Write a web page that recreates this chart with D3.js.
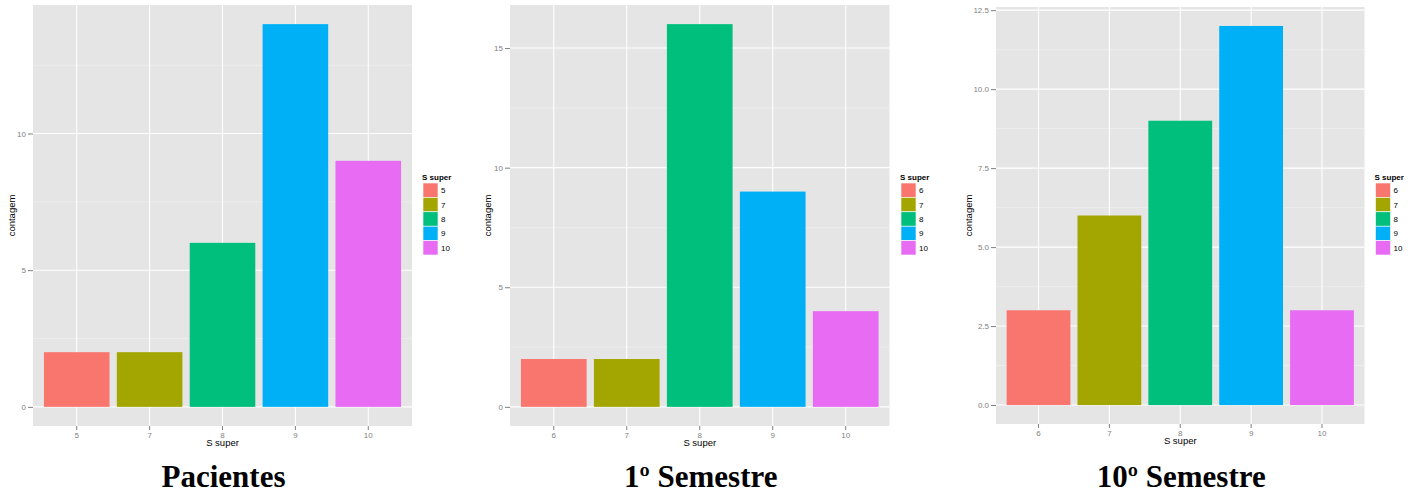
<!DOCTYPE html>
<html>
<head>
<meta charset="utf-8">
<script src="https://cdn.jsdelivr.net/npm/d3@7"></script>
<style>
  html, body { margin: 0; padding: 0; background: #ffffff; }
  svg { display: block; }
</style>
</head>
<body>
<svg id="chart" width="1414" height="493"></svg>
<script>
// S super score counts for three groups
const pacientesCats = ["5", "7", "8", "9", "10"];
const pacientesCounts = [2, 2, 6, 14, 9];

const semestre1Cats = ["6", "7", "8", "9", "10"];
const semestre1Counts = [2, 2, 16, 9, 4];

const semestre10Cats = ["6", "7", "8", "9", "10"];
const semestre10Counts = [3, 6, 9, 12, 3];

const pacientesTicks = [0, 5, 10];
const semestre1Ticks = [0, 5, 10, 15];
const semestre10Ticks = [0, 2.5, 5, 7.5, 10, 12.5];

const panelTitles = ["Pacientes", "1º Semestre", "10º Semestre"];
const hueColors = ["#F8766D", "#A3A500", "#00BF7D", "#00B0F6", "#E76BF3"];

const svg = d3.select("#chart");

const panels = [
  { cats: pacientesCats, counts: pacientesCounts, ticks: pacientesTicks, fmt: d3.format("d"),
    title: panelTitles[0], x0: 33, x1: 412, y0: 5, y1: 426, yTitleX: 12, legX: 423 },
  { cats: semestre1Cats, counts: semestre1Counts, ticks: semestre1Ticks, fmt: d3.format("d"),
    title: panelTitles[1], x0: 510, x1: 889.5, y0: 5, y1: 426, yTitleX: 488, legX: 901 },
  { cats: semestre10Cats, counts: semestre10Counts, ticks: semestre10Ticks, fmt: d3.format(".1f"),
    title: panelTitles[2], x0: 996, x1: 1364.5, y0: 7, y1: 424, yTitleX: 969, legX: 1375.5 }
];

panels.forEach(p => {
  const g = svg.append("g");
  const maxV = d3.max(p.counts);
  const pad = maxV * 0.05;

  const x = d3.scaleBand().domain(p.cats).range([p.x0, p.x1])
    .paddingInner(0.1).paddingOuter(0.15);
  const y = d3.scaleLinear().domain([-pad, maxV + pad]).range([p.y1, p.y0]);

  // panel background
  g.append("rect")
    .attr("x", p.x0).attr("y", p.y0)
    .attr("width", p.x1 - p.x0).attr("height", p.y1 - p.y0)
    .attr("fill", "#E5E5E5");

  // minor grid (midpoints between major ticks)
  const step = p.ticks[1] - p.ticks[0];
  const minor = p.ticks.map(t => t + step / 2).filter(v => y(v) >= p.y0);
  g.selectAll(".minor").data(minor).enter().append("line")
    .attr("x1", p.x0).attr("x2", p.x1)
    .attr("y1", d => y(d)).attr("y2", d => y(d))
    .attr("stroke", "#F2F2F2").attr("stroke-width", 0.6);

  // major grid
  g.selectAll(".major").data(p.ticks).enter().append("line")
    .attr("x1", p.x0).attr("x2", p.x1)
    .attr("y1", d => y(d)).attr("y2", d => y(d))
    .attr("stroke", "#FFFFFF").attr("stroke-width", 1.1);
  g.selectAll(".vmajor").data(p.cats).enter().append("line")
    .attr("x1", d => x(d) + x.bandwidth() / 2).attr("x2", d => x(d) + x.bandwidth() / 2)
    .attr("y1", p.y0).attr("y2", p.y1)
    .attr("stroke", "#FFFFFF").attr("stroke-width", 1.1);

  // bars
  g.selectAll(".bar").data(p.cats).enter().append("rect")
    .attr("x", d => x(d))
    .attr("width", x.bandwidth())
    .attr("y", (d, i) => y(p.counts[i]))
    .attr("height", (d, i) => y(0) - y(p.counts[i]))
    .attr("fill", (d, i) => hueColors[i]);

  // axes
  const yAxis = d3.axisLeft(y).tickValues(p.ticks).tickFormat(p.fmt).tickSize(5).tickPadding(2);
  const ya = g.append("g").attr("transform", `translate(${p.x0},0)`).call(yAxis);
  const xAxis = d3.axisBottom(x).tickSize(4).tickPadding(2);
  const xa = g.append("g").attr("transform", `translate(0,${p.y1})`).call(xAxis);
  [ya, xa].forEach(a => {
    a.select(".domain").remove();
    a.selectAll(".tick line").attr("stroke", "#7F7F7F");
    a.selectAll(".tick text").attr("fill", "#7F7F7F")
      .style("font-family", "Liberation Sans, Arial, sans-serif").style("font-size", "8px");
  });

  // axis titles
  g.append("text")
    .attr("x", (p.x0 + p.x1) / 2).attr("y", p.y1 + 20)
    .attr("text-anchor", "middle")
    .style("font-family", "Liberation Sans, Arial, sans-serif").style("font-size", "9.5px")
    .text("S super");
  g.append("text")
    .attr("transform", `translate(${p.yTitleX + 3},${(p.y0 + p.y1) / 2}) rotate(-90)`)
    .attr("text-anchor", "middle")
    .style("font-family", "Liberation Sans, Arial, sans-serif").style("font-size", "9.5px")
    .text("contagem");

  // legend
  const lg = g.append("g");
  const keyH = 14.4, keyW = 15, keyTop = 183;
  lg.append("text")
    .attr("x", p.legX - 1).attr("y", keyTop - 3)
    .style("font-family", "Liberation Sans, Arial, sans-serif").style("font-size", "8px")
    .style("font-weight", "bold")
    .text("S super");
  lg.selectAll(".key").data(p.cats).enter().append("rect")
    .attr("x", p.legX).attr("y", (d, i) => keyTop + i * keyH)
    .attr("width", keyW).attr("height", keyH)
    .attr("fill", (d, i) => hueColors[i])
    .attr("stroke", "#FFFFFF").attr("stroke-width", 0.6);
  lg.selectAll(".klab").data(p.cats).enter().append("text")
    .attr("x", p.legX + keyW + 3).attr("y", (d, i) => keyTop + i * keyH + keyH / 2 + 3)
    .style("font-family", "Liberation Sans, Arial, sans-serif").style("font-size", "8px")
    .text(d => d);

  // panel caption
  g.append("text")
    .attr("x", (p.x0 + p.x1) / 2 + 1).attr("y", 487)
    .attr("text-anchor", "middle")
    .style("font-family", "Liberation Serif, Times New Roman, serif")
    .style("font-size", "31px").style("font-weight", "bold")
    .text(p.title);
});
</script>
</body>
</html>
